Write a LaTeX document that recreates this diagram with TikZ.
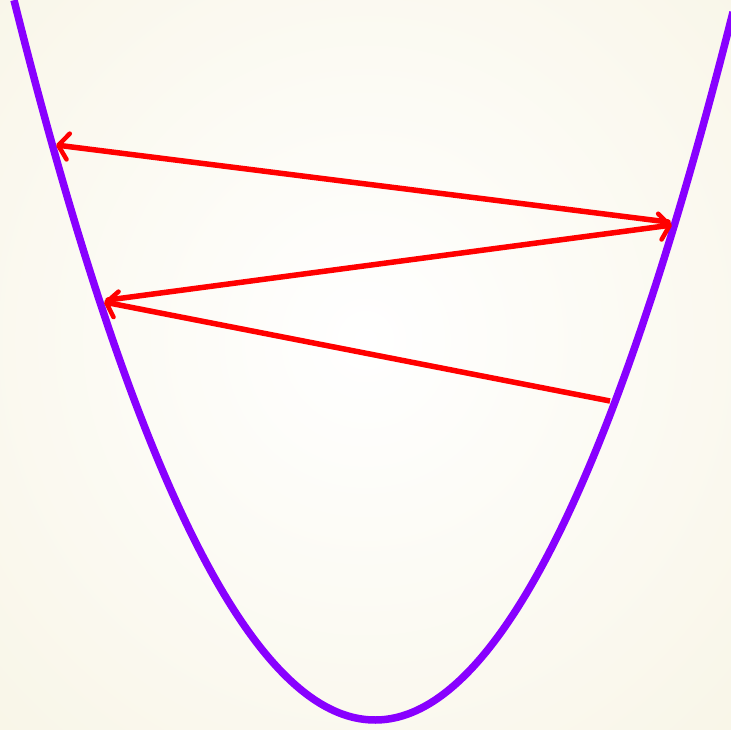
\documentclass[tikz,border=0pt]{standalone}
\usetikzlibrary{arrows.meta}
\definecolor{bgedge}{RGB}{248,245,230}
\definecolor{curvecol}{RGB}{136,0,255}
\definecolor{raycol}{RGB}{255,0,0}
\begin{document}
\begin{tikzpicture}[x=1pt,y=-1pt,
  curve/.style={curvecol,line width=7.5pt},
  ray/.style={raycol,line width=5.5pt,line cap=round,-{Straight Barb[length=10pt,width=26pt,round,line width=4.5pt]}}]
\useasboundingbox (0,0) rectangle (731,730);
\shade[inner color=white,outer color=bgedge] (-200,-250) rectangle (931,930);
\draw[curve] plot[domain=14:733,samples=160,smooth] (\x,{720-0.005517*(\x-375)*(\x-375)});
\coordinate (s) at (610,401);
\coordinate (l1) at (104,302);
\coordinate (l1s) at (108,300);
\coordinate (r1) at (672,225);
\coordinate (r1s) at (668,222);
\coordinate (l2) at (56,145);
\draw[ray,line cap=butt] (s) -- (l1);
\draw[ray] (l1s) -- (r1);
\draw[ray] (r1s) -- (l2);
\end{tikzpicture}
\end{document}
